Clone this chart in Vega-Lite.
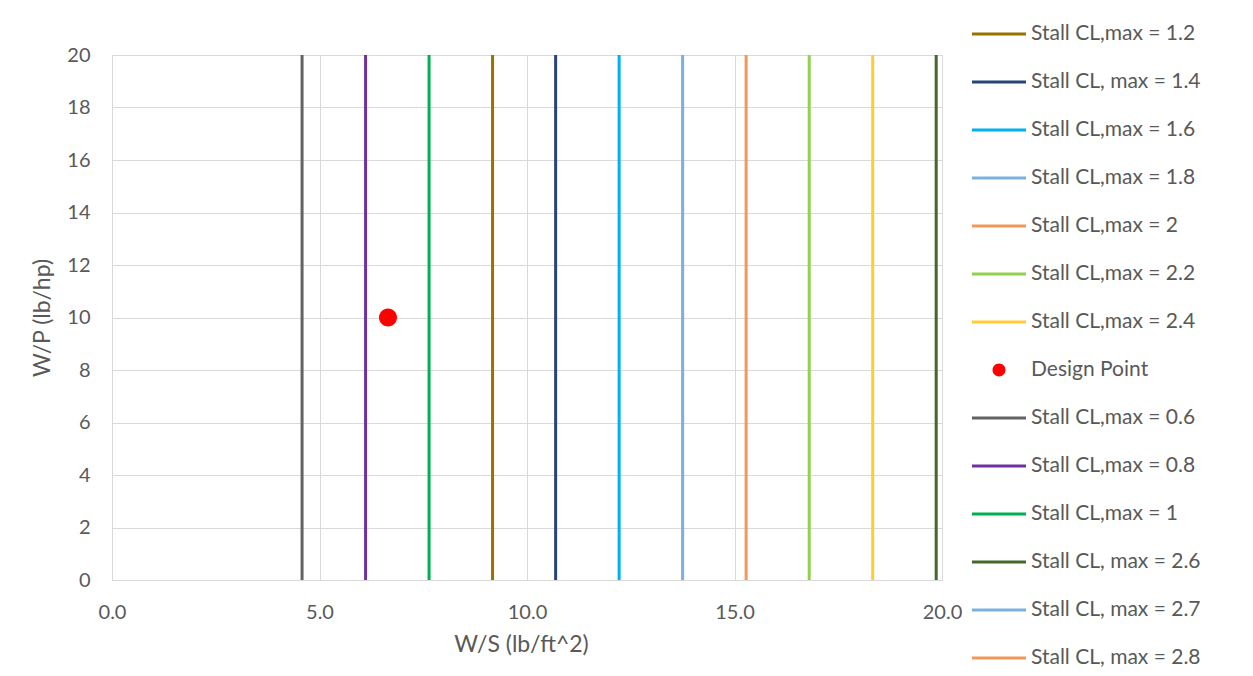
{
  "$schema": "https://vega.github.io/schema/vega-lite/v6.json",
  "width": 830,
  "height": 525,
  "autosize": {"type": "none"},
  "padding": {"left": 112, "top": 55, "right": 311, "bottom": 96},
  "background": "white",
  "config": {
    "font": "Lato",
    "view": {"stroke": "#d9d9d9", "strokeWidth": 1},
    "axis": {
      "grid": true,
      "gridColor": "#d9d9d9",
      "gridWidth": 1,
      "ticks": false,
      "tickSize": 0,
      "domain": false,
      "labelFlush": false,
      "labelFont": "Lato",
      "labelFontSize": 20,
      "labelColor": "#595959",
      "titleFont": "Lato",
      "titleFontSize": 23,
      "titleFontWeight": "normal",
      "titleColor": "#595959"
    },
    "legend": {
      "orient": "none",
      "legendX": 860,
      "legendY": -48,
      "padding": 0,
      "symbolSize": 2916,
      "symbolStrokeWidth": 0,
      "labelFont": "Lato",
      "labelFontSize": 21,
      "labelColor": "#595959",
      "labelOffset": 5,
      "rowPadding": 11,
      "labelLimit": 300
    }
  },
  "datasets": {
    "stall": [
      {"series": "Stall CL,max = 0.6", "cl": 0.6, "ws": 4.58},
      {"series": "Stall CL,max = 0.8", "cl": 0.8, "ws": 6.11},
      {"series": "Stall CL,max = 1", "cl": 1.0, "ws": 7.64},
      {"series": "Stall CL,max = 1.2", "cl": 1.2, "ws": 9.17},
      {"series": "Stall CL, max = 1.4", "cl": 1.4, "ws": 10.69},
      {"series": "Stall CL,max = 1.6", "cl": 1.6, "ws": 12.22},
      {"series": "Stall CL,max = 1.8", "cl": 1.8, "ws": 13.75},
      {"series": "Stall CL,max = 2", "cl": 2.0, "ws": 15.28},
      {"series": "Stall CL,max = 2.2", "cl": 2.2, "ws": 16.8},
      {"series": "Stall CL,max = 2.4", "cl": 2.4, "ws": 18.33},
      {"series": "Stall CL, max = 2.6", "cl": 2.6, "ws": 19.86},
      {"series": "Stall CL, max = 2.7", "cl": 2.7, "ws": 20.63},
      {"series": "Stall CL, max = 2.8", "cl": 2.8, "ws": 21.39}
    ],
    "design": [
      {"series": "Design Point", "ws": 6.65, "wp": 10}
    ]
  },
  "layer": [
    {
      "data": {"name": "stall"},
      "mark": {"type": "rule", "strokeWidth": 3, "clip": true},
      "encoding": {
        "x": {
          "field": "ws",
          "type": "quantitative",
          "scale": {"domain": [0, 20], "nice": false, "zero": false},
          "axis": {"title": "W/S (lb/ft^2)", "values": [0, 5, 10, 15, 20], "format": ".1f", "labelPadding": 22, "titlePadding": 11, "titleX": 409}
        },
        "stroke": {
          "field": "series",
          "type": "nominal",
          "legend": null,
          "scale": {
            "domain": ["Stall CL,max = 1.2", "Stall CL, max = 1.4", "Stall CL,max = 1.6", "Stall CL,max = 1.8", "Stall CL,max = 2", "Stall CL,max = 2.2", "Stall CL,max = 2.4", "Stall CL,max = 0.6", "Stall CL,max = 0.8", "Stall CL,max = 1", "Stall CL, max = 2.6", "Stall CL, max = 2.7", "Stall CL, max = 2.8"],
            "range": ["#997300", "#264478", "#00B0F0", "#7CAFDD", "#F1975A", "#92D050", "#FFCD33", "#636363", "#7030A0", "#00B050", "#43682B", "#7CAFDD", "#F1975A"]
          }
        }
      }
    },
    {
      "data": {"name": "design"},
      "mark": {"type": "point", "filled": true, "opacity": 1, "size": 5625, "strokeWidth": 0},
      "encoding": {
        "x": {
          "field": "ws",
          "type": "quantitative",
          "scale": {"domain": [0, 20], "nice": false, "zero": false},
          "axis": {"title": "W/S (lb/ft^2)", "values": [0, 5, 10, 15, 20], "format": ".1f", "labelPadding": 22, "titlePadding": 11, "titleX": 409}
        },
        "y": {
          "field": "wp",
          "type": "quantitative",
          "scale": {"domain": [0, 20], "nice": false, "zero": false},
          "axis": {"title": "W/P (lb/hp)", "values": [0, 2, 4, 6, 8, 10, 12, 14, 16, 18, 20], "labelPadding": 22, "titlePadding": 12}
        },
        "color": {
          "field": "series",
          "type": "nominal",
          "legend": {"title": null},
          "scale": {
            "domain": ["Stall CL,max = 1.2", "Stall CL, max = 1.4", "Stall CL,max = 1.6", "Stall CL,max = 1.8", "Stall CL,max = 2", "Stall CL,max = 2.2", "Stall CL,max = 2.4", "Design Point", "Stall CL,max = 0.6", "Stall CL,max = 0.8", "Stall CL,max = 1", "Stall CL, max = 2.6", "Stall CL, max = 2.7", "Stall CL, max = 2.8"],
            "range": ["#997300", "#264478", "#00B0F0", "#7CAFDD", "#F1975A", "#92D050", "#FFCD33", "#FF0000", "#636363", "#7030A0", "#00B050", "#43682B", "#7CAFDD", "#F1975A"]
          }
        },
        "shape": {
          "field": "series",
          "type": "nominal",
          "legend": {"title": null},
          "scale": {
            "domain": ["Stall CL,max = 1.2", "Stall CL, max = 1.4", "Stall CL,max = 1.6", "Stall CL,max = 1.8", "Stall CL,max = 2", "Stall CL,max = 2.2", "Stall CL,max = 2.4", "Design Point", "Stall CL,max = 0.6", "Stall CL,max = 0.8", "Stall CL,max = 1", "Stall CL, max = 2.6", "Stall CL, max = 2.7", "Stall CL, max = 2.8"],
            "range": [
              "M-1,-0.055H1V0.055H-1Z", "M-1,-0.055H1V0.055H-1Z", "M-1,-0.055H1V0.055H-1Z", "M-1,-0.055H1V0.055H-1Z",
              "M-1,-0.055H1V0.055H-1Z", "M-1,-0.055H1V0.055H-1Z", "M-1,-0.055H1V0.055H-1Z",
              "M-0.24,0A0.24,0.24,0,1,1,0.24,0A0.24,0.24,0,1,1,-0.24,0Z",
              "M-1,-0.055H1V0.055H-1Z", "M-1,-0.055H1V0.055H-1Z", "M-1,-0.055H1V0.055H-1Z",
              "M-1,-0.055H1V0.055H-1Z", "M-1,-0.055H1V0.055H-1Z", "M-1,-0.055H1V0.055H-1Z"
            ]
          }
        }
      }
    }
  ]
}
